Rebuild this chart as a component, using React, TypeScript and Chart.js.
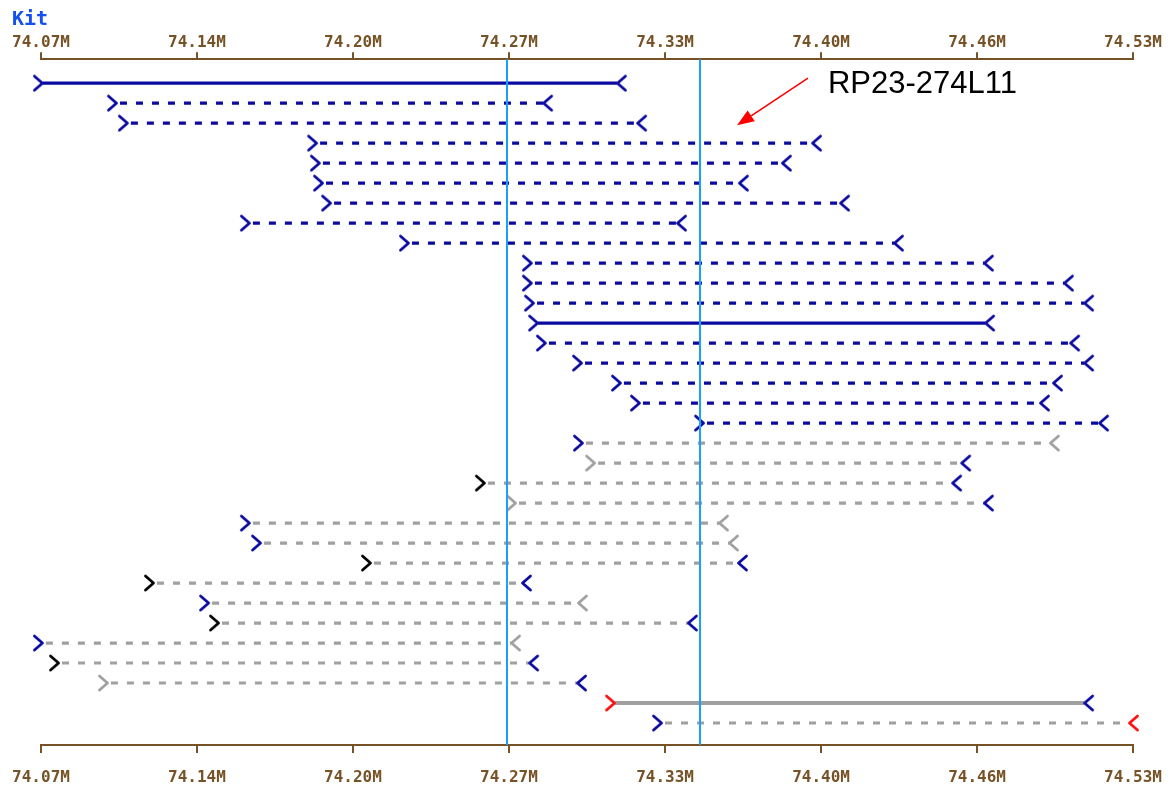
import React, { useEffect, useRef } from 'react';
import { Chart, registerables } from 'chart.js';

Chart.register(...registerables);

// ---------- data ----------
const chartTitle = 'Kit';
const xMin = 74.07;
const xMax = 74.53;
const tickValues = [74.07, 74.1357, 74.2014, 74.2671, 74.3329, 74.3986, 74.4643, 74.53];
const tickLabels = ['74.07M', '74.14M', '74.20M', '74.27M', '74.33M', '74.40M', '74.46M', '74.53M'];

// clone end-pair spans (Mb), one per row, top to bottom
const cloneStarts = [
  74.0708, 74.1020, 74.1066, 74.1863, 74.1875, 74.1888, 74.1922, 74.1580, 74.2250,
  74.2768, 74.2768, 74.2777, 74.2794, 74.2827, 74.2979, 74.3143, 74.3223, 74.3493,
  74.2983, 74.3034, 74.2570, 74.2701, 74.1580, 74.1627, 74.2090, 74.1176, 74.1408,
  74.1450, 74.0708, 74.0776, 74.0982, 74.3118, 74.3316,
];
const cloneEnds = [
  74.3126, 74.2815, 74.3211, 74.3948, 74.3821, 74.3640, 74.4066, 74.3379, 74.4293,
  74.4672, 74.5009, 74.5094, 74.4677, 74.5035, 74.5094, 74.4963, 74.4908, 74.5157,
  74.4950, 74.4576, 74.4538, 74.4672, 74.3556, 74.3598, 74.3636, 74.2726, 74.2962,
  74.3425, 74.2680, 74.2756, 74.2958, 74.5094, 74.5283,
];
// S = solid, D = dashed
const lineKinds = [
  'S', 'D', 'D', 'D', 'D', 'D', 'D', 'D', 'D', 'D', 'D', 'D', 'S', 'D', 'D', 'D', 'D', 'D',
  'D', 'D', 'D', 'D', 'D', 'D', 'D', 'D', 'D', 'D', 'D', 'D', 'D', 'S', 'D',
];
// B = blue, G = gray, K = black, R = red
const lineColors = [
  'B', 'B', 'B', 'B', 'B', 'B', 'B', 'B', 'B', 'B', 'B', 'B', 'B', 'B', 'B', 'B', 'B', 'B',
  'G', 'G', 'G', 'G', 'G', 'G', 'G', 'G', 'G', 'G', 'G', 'G', 'G', 'G', 'G',
];
const startColors = [
  'B', 'B', 'B', 'B', 'B', 'B', 'B', 'B', 'B', 'B', 'B', 'B', 'B', 'B', 'B', 'B', 'B', 'B',
  'B', 'G', 'K', 'G', 'B', 'B', 'K', 'K', 'B', 'K', 'B', 'K', 'G', 'R', 'B',
];
const endColors = [
  'B', 'B', 'B', 'B', 'B', 'B', 'B', 'B', 'B', 'B', 'B', 'B', 'B', 'B', 'B', 'B', 'B', 'B',
  'G', 'B', 'B', 'B', 'G', 'G', 'B', 'B', 'G', 'B', 'G', 'B', 'B', 'B', 'R',
];
// highlighted positions (vertical guides)
const guidePositions = [74.2663, 74.3476];

// callout annotation
const calloutLabel = 'RP23-274L11';
const calloutTextAt = [74.4015, 1.5];
const calloutArrowFrom = [74.3931, 0.75];
const calloutArrowTo = [74.3632, 3.1];

// ---------- styles ----------
const palette: Record<string, string> = {
  B: '#0a0aa0',
  G: '#a0a0a0',
  K: '#000000',
  R: '#ff1010',
};
const axisColor = '#765226';
const guideColor = '#1aa0f8';
const titleColor = '#1450f0';

function makeChevron(dir: 'start' | 'end', color: string): HTMLCanvasElement {
  const c = document.createElement('canvas');
  c.width = 24;
  c.height = 18;
  const g = c.getContext('2d')!;
  g.strokeStyle = color;
  g.lineWidth = 2.8;
  g.lineCap = 'round';
  g.lineJoin = 'round';
  g.beginPath();
  if (dir === 'start') {
    g.moveTo(3.5, 2);
    g.lineTo(11.5, 9);
    g.lineTo(3.5, 16);
  } else {
    g.moveTo(20.5, 2);
    g.lineTo(12.5, 9);
    g.lineTo(20.5, 16);
  }
  g.stroke();
  return c;
}

const calloutPlugin = {
  id: 'callout',
  afterDatasetsDraw(chart: any) {
    const xs = chart.scales.x;
    const ys = chart.scales.y;
    const ctx = chart.ctx as CanvasRenderingContext2D;
    const x1 = xs.getPixelForValue(calloutArrowFrom[0]);
    const y1 = ys.getPixelForValue(calloutArrowFrom[1]);
    const x2 = xs.getPixelForValue(calloutArrowTo[0]);
    const y2 = ys.getPixelForValue(calloutArrowTo[1]);
    const ang = Math.atan2(y2 - y1, x2 - x1);
    const headLen = 17;
    const headW = 6.5;
    const bx = x2 - headLen * Math.cos(ang);
    const by = y2 - headLen * Math.sin(ang);
    ctx.save();
    ctx.strokeStyle = '#ff0000';
    ctx.fillStyle = '#ff0000';
    ctx.lineWidth = 1.6;
    ctx.beginPath();
    ctx.moveTo(x1, y1);
    ctx.lineTo(bx, by);
    ctx.stroke();
    ctx.beginPath();
    ctx.moveTo(x2, y2);
    ctx.lineTo(bx + headW * Math.sin(ang), by - headW * Math.cos(ang));
    ctx.lineTo(bx - headW * Math.sin(ang), by + headW * Math.cos(ang));
    ctx.closePath();
    ctx.fill();
    ctx.fillStyle = '#000000';
    ctx.font = '31px "Liberation Sans", Arial, sans-serif';
    ctx.textAlign = 'left';
    ctx.textBaseline = 'alphabetic';
    ctx.fillText(calloutLabel, xs.getPixelForValue(calloutTextAt[0]), ys.getPixelForValue(calloutTextAt[1]));
    ctx.restore();
  },
};

export default function App() {
  const ref = useRef<HTMLCanvasElement | null>(null);

  useEffect(() => {
    if (!ref.current) return;
    const chevrons: Record<string, HTMLCanvasElement> = {};
    const chev = (dir: 'start' | 'end', code: string) => {
      const key = dir + code;
      if (!chevrons[key]) chevrons[key] = makeChevron(dir, palette[code]);
      return chevrons[key];
    };

    const yMin = -0.2;
    const yMax = 34.1;

    const guideSets = guidePositions.map((v) => ({
      data: [
        { x: v, y: yMin },
        { x: v, y: yMax },
      ],
      borderColor: guideColor,
      borderWidth: 2,
      pointRadius: 0,
      clip: false,
      order: 0,
    }));

    const rowSets = cloneStarts.map((s, i) => {
      const solid = lineKinds[i] === 'S';
      const gray = lineColors[i] === 'G';
      return {
        data: [
          { x: s, y: i + 1 },
          { x: cloneEnds[i], y: i + 1 },
        ],
        borderColor: palette[lineColors[i]],
        borderWidth: solid && gray ? 4 : 3.2,
        borderDash: solid ? [] : [7, 9],
        borderDashOffset: -3,
        pointStyle: [chev('start', startColors[i]), chev('end', endColors[i])],
        pointRadius: 3,
        clip: false,
        order: 1,
      };
    });

    const tickFont = { family: '"DejaVu Sans Mono", monospace', size: 16, weight: 'bold' };

    const chart = new Chart(ref.current, {
      type: 'line',
      data: { datasets: [...guideSets, ...rowSets] as any },
      plugins: [calloutPlugin],
      options: {
        animation: false,
        responsive: false,
        devicePixelRatio: 1,
        events: [],
        layout: { padding: { left: 12, right: 43, top: 0, bottom: 0 }, autoPadding: false },
        elements: { line: { tension: 0, fill: false } },
        plugins: {
          legend: { display: false },
          tooltip: { enabled: false },
          title: {
            display: true,
            text: chartTitle,
            align: 'start',
            color: titleColor,
            font: { family: '"DejaVu Sans Mono", monospace', size: 20, weight: 'bold' },
            padding: { top: 8, bottom: 1 },
          },
        },
        scales: {
          x: {
            type: 'linear',
            position: 'top',
            min: xMin,
            max: xMax,
            afterBuildTicks: (scale: any) => {
              scale.ticks = tickValues.map((v) => ({ value: v }));
            },
            ticks: {
              autoSkip: false,
              maxRotation: 0,
              padding: 0,
              color: axisColor,
              font: tickFont,
              callback: (_v: any, idx: number) => tickLabels[idx],
            },
            grid: {
              display: true,
              drawOnChartArea: false,
              drawTicks: true,
              tickLength: 7,
              color: axisColor,
              lineWidth: 2,
            },
            border: { display: true, color: axisColor, width: 2 },
          },
          x2: {
            type: 'linear',
            position: 'bottom',
            min: xMin,
            max: xMax,
            afterBuildTicks: (scale: any) => {
              scale.ticks = tickValues.map((v) => ({ value: v }));
            },
            ticks: {
              autoSkip: false,
              maxRotation: 0,
              padding: 2,
              color: axisColor,
              font: { ...tickFont, lineHeight: 0.9375 },
              callback: (_v: any, idx: number) => ['', tickLabels[idx]],
            },
            grid: {
              display: true,
              drawOnChartArea: false,
              drawTicks: true,
              tickLength: 8,
              color: axisColor,
              lineWidth: 2,
            },
            border: { display: true, color: axisColor, width: 2 },
          },
          y: {
            type: 'linear',
            reverse: true,
            min: yMin,
            max: yMax,
            display: true,
            afterFit: (scale: any) => {
              scale.width = 29;
            },
            ticks: { display: false },
            grid: { display: false, drawTicks: false },
            border: { display: false },
          },
        },
      } as any,
    });
    return () => chart.destroy();
  }, []);

  return (
    <div style={{ position: 'fixed', left: 0, top: 0, width: 1176, height: 787, background: '#ffffff' }}>
      <canvas ref={ref} width={1176} height={787} style={{ display: 'block' }} />
    </div>
  );
}
